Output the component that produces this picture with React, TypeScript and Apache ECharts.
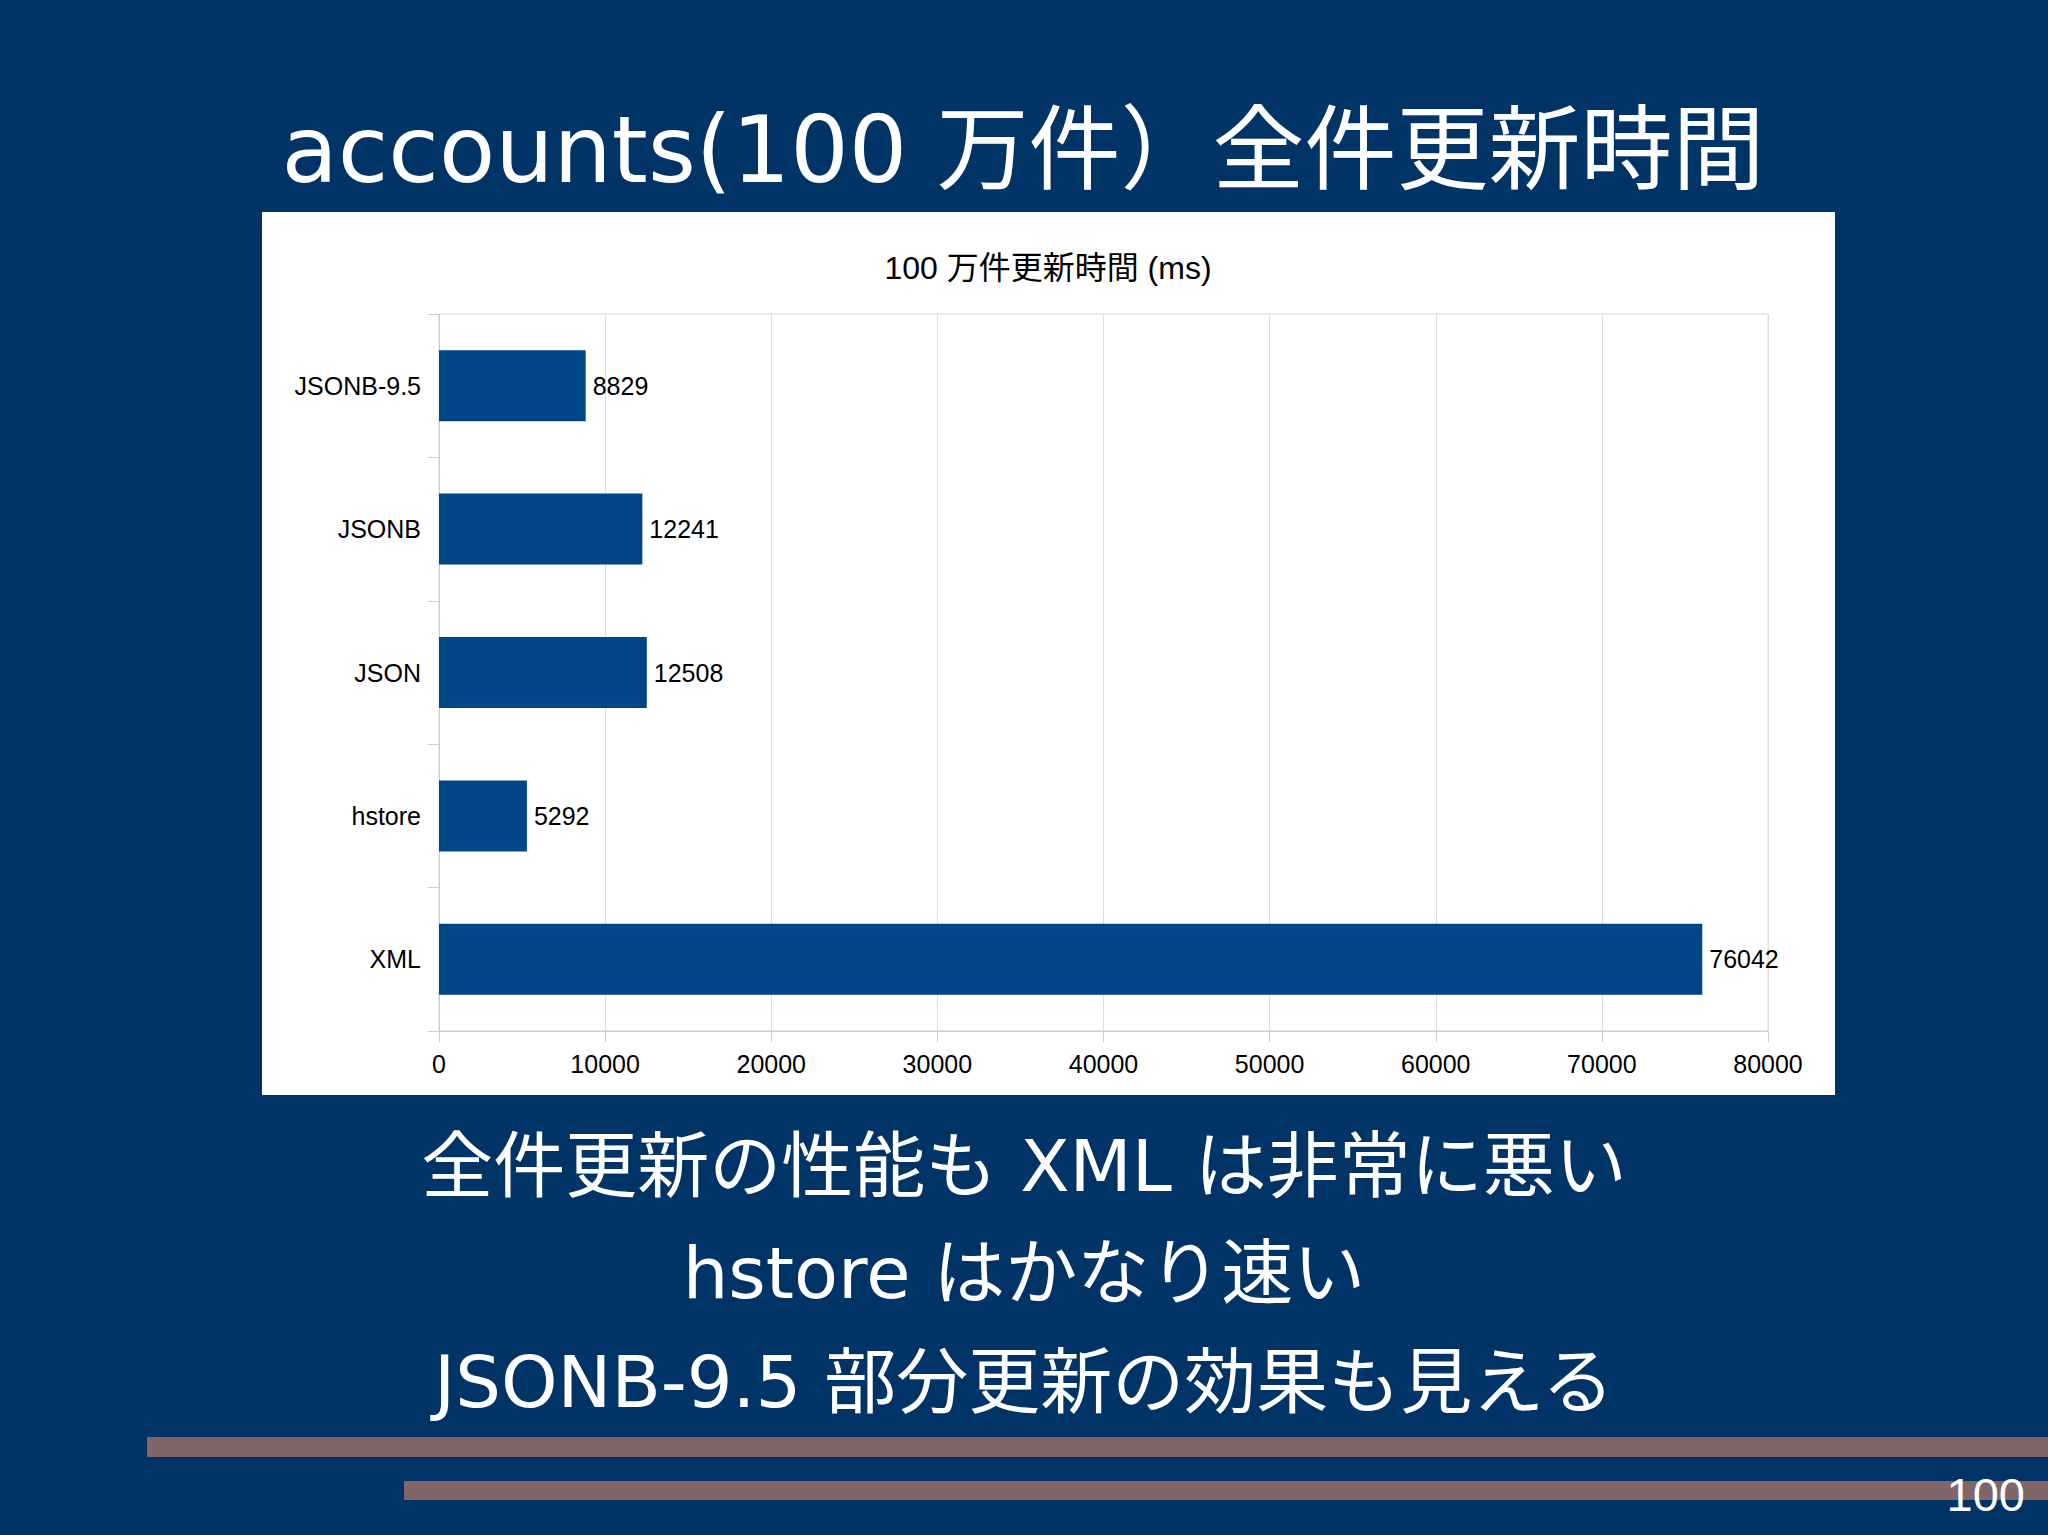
import React, { useEffect, useRef } from "react";
import * as echarts from "echarts";

const categories = ["JSONB-9.5", "JSONB", "JSON", "hstore", "XML"];
const updateTimes = [8829, 12241, 12508, 5292, 76042];
const xTicks = { min: 0, max: 80000, interval: 10000 };

const pageTitle = "accounts(100 万件）全件更新時間";
const chartTitle = "100 万件更新時間 (ms)";
const bulletLines = [
  "全件更新の性能も XML は非常に悪い",
  "hstore はかなり速い",
  "JSONB-9.5 部分更新の効果も見える",
];
const pageNumber = "100";

const BG = "#003366";
const BAR = "#004586";
const STRIPE = "#806666";
const LATIN_CJK = "'DejaVu Sans', 'Noto Sans CJK JP', sans-serif";
const CHART_FONT = "'Liberation Sans', 'Noto Sans CJK JP', sans-serif";

export default function App() {
  const ref = useRef<HTMLDivElement>(null);
  useEffect(() => {
    if (!ref.current) return;
    const chart = echarts.init(ref.current, undefined, { renderer: "svg" });
    const lineYs = [1166, 1273, 1382];
    chart.setOption({
      animation: false,
      backgroundColor: BG,
      graphic: {
        elements: [
          {
            type: "rect",
            z: -10,
            shape: { x: 262, y: 212, width: 1573, height: 883 },
            style: { fill: "#ffffff" },
          },
          {
            type: "text",
            x: 1023,
            y: 150,
            style: {
              text: pageTitle,
              fill: "#ffffff",
              font: `92px ${LATIN_CJK}`,
              align: "center",
              verticalAlign: "middle",
            },
          },
          {
            type: "text",
            x: 1048,
            y: 268,
            style: {
              text: chartTitle,
              fill: "#000000",
              font: `32px ${CHART_FONT}`,
              align: "center",
              verticalAlign: "middle",
            },
          },
          ...bulletLines.map((t, i) => ({
            type: "text",
            x: 1024,
            y: lineYs[i],
            style: {
              text: t,
              fill: "#ffffff",
              font: `72px ${LATIN_CJK}`,
              align: "center",
              verticalAlign: "middle",
            },
          })),
          {
            type: "rect",
            shape: { x: 147, y: 1437, width: 1901, height: 20 },
            style: { fill: STRIPE },
          },
          {
            type: "rect",
            shape: { x: 404, y: 1481, width: 1644, height: 19 },
            style: { fill: STRIPE },
          },
          {
            type: "text",
            x: 2025,
            y: 1494,
            style: {
              text: pageNumber,
              fill: "#ffffff",
              font: `47px ${CHART_FONT}`,
              align: "right",
              verticalAlign: "middle",
            },
          },
        ],
      },
      grid: {
        left: 439,
        top: 314,
        width: 1329,
        height: 717,
        show: true,
        borderColor: "#d9d9d9",
        borderWidth: 1,
        backgroundColor: "transparent",
      },
      xAxis: {
        type: "value",
        min: xTicks.min,
        max: xTicks.max,
        interval: xTicks.interval,
        axisLine: { show: true, lineStyle: { color: "#cccccc", width: 1 } },
        axisTick: { show: true, length: 11, lineStyle: { color: "#cccccc" } },
        splitLine: { show: true, lineStyle: { color: "#dddddd", width: 1 } },
        axisLabel: {
          color: "#000000",
          fontSize: 25,
          fontFamily: CHART_FONT,
          margin: 20,
          formatter: (v: number) => String(v),
        },
      },
      yAxis: {
        type: "category",
        data: categories,
        inverse: true,
        axisLine: { show: true, lineStyle: { color: "#cccccc", width: 1 } },
        axisTick: { show: true, length: 11, lineStyle: { color: "#cccccc" } },
        splitLine: { show: false },
        axisLabel: {
          color: "#000000",
          fontSize: 25,
          fontFamily: CHART_FONT,
          margin: 18,
        },
      },
      series: [
        {
          type: "bar",
          data: updateTimes,
          barWidth: 71,
          itemStyle: { color: BAR },
          label: {
            show: true,
            position: "right",
            distance: 7,
            color: "#000000",
            fontSize: 25,
            fontFamily: CHART_FONT,
          },
        },
      ],
    });
    return () => chart.dispose();
  }, []);
  return (
    <div
      ref={ref}
      style={{ position: "fixed", left: 0, top: 0, width: 2048, height: 1535 }}
    />
  );
}
